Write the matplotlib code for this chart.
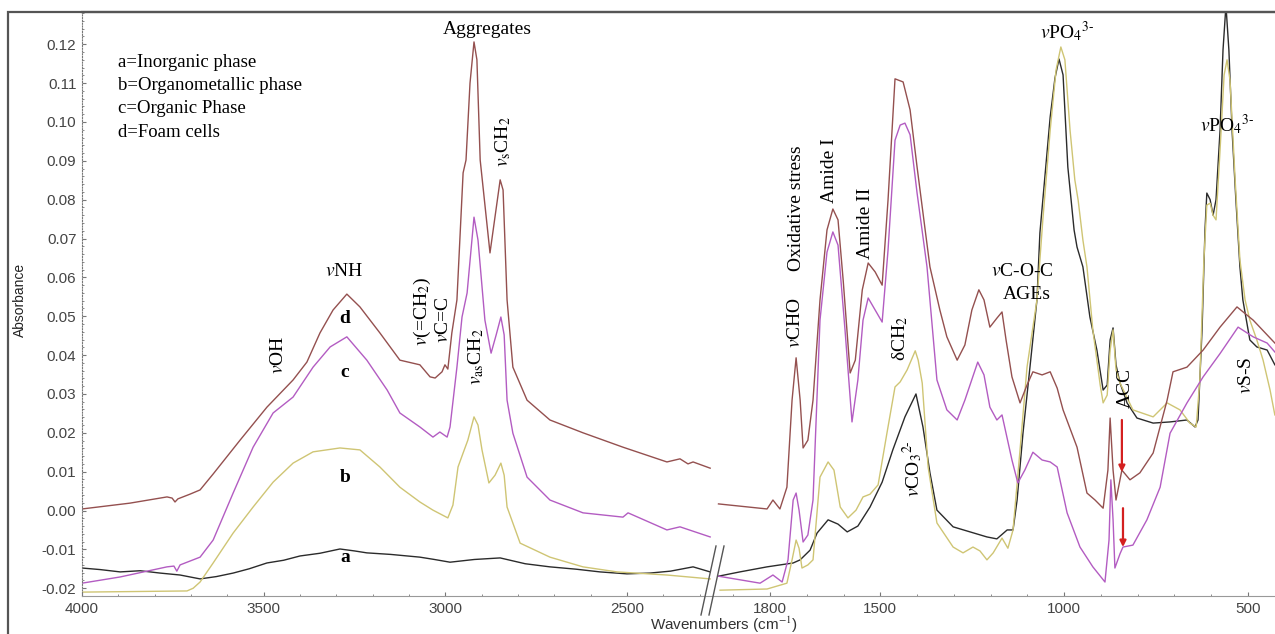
import numpy as np
import matplotlib.pyplot as plt
from matplotlib.patches import Rectangle
from matplotlib.lines import Line2D
from matplotlib.ticker import FixedLocator, FormatStrFormatter, MultipleLocator

plt.rcParams["mathtext.fontset"] = "stix"

# ---- spectra (wavenumber cm-1, absorbance) ----
# a = inorganic phase (black)
a_left_wn = [4000, 3950, 3895, 3840, 3785, 3730, 3675, 3630, 3584, 3540, 3491, 3445, 3400, 3345,
             3290, 3250, 3216, 3150, 3070, 3030, 2987, 2920, 2849, 2780, 2712, 2640, 2574, 2500,
             2437, 2380, 2318, 2271]
a_left_abs = [-0.0148, -0.0152, -0.0158, -0.0155, -0.0161, -0.0166, -0.0176, -0.0170, -0.0161,
              -0.0150, -0.0135, -0.0128, -0.0117, -0.0110, -0.0099, -0.0104, -0.0109, -0.0113,
              -0.0120, -0.0126, -0.0133, -0.0126, -0.0122, -0.0137, -0.0145, -0.0151, -0.0158,
              -0.0163, -0.0161, -0.0156, -0.0145, -0.0158]
a_right_wn = [1941, 1882, 1808, 1737, 1718, 1691, 1672, 1642, 1615, 1590, 1561, 1528, 1495, 1466,
              1433, 1403, 1384, 1365, 1346, 1302, 1256, 1210, 1183, 1155, 1139, 1128, 1112, 1093,
              1074, 1066, 1038, 1025, 1014, 1003, 990, 973, 965, 949, 930, 911, 894, 883, 875, 867,
              859, 848, 829, 802, 758, 712, 666, 644, 636, 625, 617, 612, 603, 595, 587, 576, 568,
              560, 552, 543, 533, 522, 514, 495, 476, 448, 427]
a_right_abs = [-0.0169, -0.0158, -0.0145, -0.0135, -0.0127, -0.0102, -0.0058, -0.0024, -0.0035,
               -0.0055, -0.0040, 0.0009, 0.0073, 0.0156, 0.0241, 0.0300, 0.0215, 0.0097, 0.0001,
               -0.0042, -0.0055, -0.0068, -0.0073, -0.0050, -0.0050, 0.0027, 0.0199, 0.0369,
               0.0542, 0.0714, 0.1013, 0.1113, 0.1162, 0.1121, 0.0884, 0.0722, 0.0678, 0.0627,
               0.0498, 0.0413, 0.0310, 0.0323, 0.0439, 0.0470, 0.0375, 0.0328, 0.0277, 0.0238,
               0.0225, 0.0228, 0.0233, 0.0215, 0.0233, 0.0465, 0.0722, 0.0817, 0.0800, 0.0760,
               0.0800, 0.0979, 0.1185, 0.1300, 0.1185, 0.0972, 0.0800, 0.0627, 0.0542, 0.0439,
               0.0421, 0.0413, 0.0375]

# b = organometallic phase (yellow)
b_left_wn = [4000, 3711, 3694, 3675, 3639, 3584, 3529, 3474, 3419, 3364, 3290, 3235, 3180, 3125,
             3070, 3034, 2993, 2979, 2965, 2951, 2938, 2921, 2910, 2899, 2880, 2863, 2847, 2838,
             2830, 2794, 2712, 2621, 2527, 2390, 2271]
b_left_abs = [-0.0210, -0.0207, -0.0200, -0.0184, -0.0135, -0.0058, 0.0009, 0.0073, 0.0122,
              0.0151, 0.0161, 0.0156, 0.0112, 0.0060, 0.0022, 0.0001, -0.0019, 0.0014, 0.0112,
              0.0148, 0.0181, 0.0241, 0.0220, 0.0156, 0.0071, 0.0091, 0.0122, 0.0091, 0.0009,
              -0.0084, -0.0120, -0.0145, -0.0158, -0.0166, -0.0176]
b_right_wn = [1936, 1808, 1754, 1740, 1729, 1721, 1713, 1697, 1683, 1664, 1642, 1626, 1609, 1588,
              1566, 1547, 1528, 1506, 1482, 1460, 1446, 1427, 1405, 1397, 1386, 1370, 1346, 1302,
              1275, 1248, 1229, 1210, 1193, 1169, 1153, 1139, 1120, 1101, 1074, 1058, 1038, 1022,
              1009, 998, 984, 971, 962, 949, 938, 922, 902, 894, 883, 875, 867, 859, 848, 813, 758,
              720, 685, 658, 641, 631, 620, 612, 603, 595, 587, 576, 565, 557, 549, 535, 522, 508,
              495, 476, 459, 440, 427]
b_right_abs = [-0.0205, -0.0202, -0.0187, -0.0127, -0.0076, -0.0097, -0.0148, -0.0140, -0.0127,
               0.0086, 0.0125, 0.0104, 0.0009, -0.0019, 0.0001, 0.0035, 0.0042, 0.0066, 0.0199,
               0.0318, 0.0331, 0.0362, 0.0411, 0.0387, 0.0328, 0.0112, -0.0032, -0.0094, -0.0109,
               -0.0094, -0.0104, -0.0127, -0.0109, -0.0071, -0.0097, -0.0050, 0.0156, 0.0369,
               0.0542, 0.0748, 0.0979, 0.1134, 0.1193, 0.1160, 0.0979, 0.0851, 0.0799, 0.0696,
               0.0627, 0.0465, 0.0323, 0.0277, 0.0297, 0.0413, 0.0465, 0.0362, 0.0328, 0.0259,
               0.0241, 0.0277, 0.0259, 0.0225, 0.0215, 0.0336, 0.0645, 0.0786, 0.0791, 0.0760,
               0.0748, 0.0928, 0.1121, 0.1160, 0.1108, 0.0851, 0.0645, 0.0542, 0.0490, 0.0439,
               0.0387, 0.0310, 0.0246]

# c = organic phase (purple)
c_left_wn = [4000, 3895, 3766, 3747, 3739, 3730, 3675, 3639, 3584, 3529, 3474, 3419, 3364, 3317,
             3271, 3216, 3160, 3125, 3070, 3034, 3015, 2995, 2987, 2968, 2954, 2940, 2921, 2910,
             2891, 2874, 2860, 2847, 2838, 2830, 2814, 2775, 2712, 2621, 2511, 2497, 2390, 2354,
             2271]
c_left_abs = [-0.0187, -0.0171, -0.0145, -0.0143, -0.0156, -0.0140, -0.0120, -0.0076, 0.0045,
              0.0163, 0.0251, 0.0292, 0.0369, 0.0421, 0.0447, 0.0387, 0.0310, 0.0251, 0.0215,
              0.0189, 0.0202, 0.0189, 0.0215, 0.0369, 0.0498, 0.0560, 0.0755, 0.0696, 0.0490,
              0.0405, 0.0452, 0.0498, 0.0452, 0.0284, 0.0199, 0.0086, 0.0027, -0.0006, -0.0017,
              -0.0006, -0.0050, -0.0042, -0.0068]
c_right_wn = [1941, 1827, 1792, 1767, 1751, 1737, 1729, 1721, 1710, 1697, 1683, 1664, 1645, 1629,
              1615, 1596, 1577, 1561, 1547, 1533, 1514, 1495, 1479, 1460, 1446, 1433, 1419, 1400,
              1373, 1346, 1319, 1291, 1270, 1235, 1218, 1202, 1183, 1169, 1142, 1126, 1107, 1085,
              1060, 1038, 1019, 992, 957, 922, 889, 878, 873, 867, 862, 848, 840, 813, 775, 739,
              712, 666, 622, 576, 527, 486, 448, 427]
c_right_abs = [-0.0169, -0.0187, -0.0166, -0.0184, -0.0127, 0.0027, 0.0045, 0.0001, -0.0081,
               -0.0063, 0.0027, 0.0490, 0.0665, 0.0717, 0.0683, 0.0465, 0.0228, 0.0336, 0.0490,
               0.0547, 0.0516, 0.0485, 0.0670, 0.0953, 0.0992, 0.0997, 0.0967, 0.0817, 0.0627,
               0.0336, 0.0259, 0.0233, 0.0284, 0.0382, 0.0349, 0.0266, 0.0233, 0.0246, 0.0130,
               0.0071, 0.0104, 0.0150, 0.0130, 0.0125, 0.0112, -0.0006, -0.0094, -0.0145,
               -0.0184, -0.0076, 0.0079, -0.0024, -0.0148, -0.0111, -0.0094, -0.0089, -0.0024,
               0.0060, 0.0199, 0.0277, 0.0344, 0.0404, 0.0472, 0.0447, 0.0431, 0.0408]

# d = foam cells (brown)
d_left_wn = [4000, 3868, 3766, 3752, 3744, 3736, 3703, 3675, 3639, 3565, 3491, 3419, 3381, 3345,
             3309, 3271, 3235, 3180, 3125, 3070, 3042, 3028, 3009, 3001, 2993, 2982, 2968, 2951,
             2943, 2932, 2921, 2913, 2904, 2877, 2849, 2841, 2830, 2814, 2775, 2712, 2621, 2511,
             2390, 2354, 2332, 2318, 2271]
d_left_abs = [0.0004, 0.0019, 0.0035, 0.0032, 0.0022, 0.0030, 0.0042, 0.0053, 0.0094, 0.0181,
              0.0266, 0.0336, 0.0382, 0.0457, 0.0516, 0.0557, 0.0524, 0.0457, 0.0387, 0.0375,
              0.0344, 0.0341, 0.0357, 0.0375, 0.0364, 0.0457, 0.0542, 0.0869, 0.0902, 0.1100,
              0.1206, 0.1160, 0.0902, 0.0663, 0.0851, 0.0825, 0.0542, 0.0369, 0.0284, 0.0233,
              0.0200, 0.0163, 0.0125, 0.0133, 0.0120, 0.0125, 0.0109]
d_right_wn = [1941, 1808, 1792, 1773, 1754, 1740, 1729, 1718, 1710, 1697, 1683, 1664, 1645, 1629,
              1615, 1601, 1582, 1568, 1549, 1533, 1514, 1495, 1479, 1460, 1438, 1419, 1400, 1378,
              1365, 1338, 1319, 1291, 1270, 1251, 1232, 1218, 1202, 1183, 1169, 1158, 1142, 1120,
              1101, 1085, 1060, 1038, 1019, 1003, 965, 938, 916, 894, 881, 875, 867, 859, 843, 821,
              794, 758, 720, 704, 666, 622, 576, 530, 486, 427]
d_right_abs = [0.0017, 0.0004, 0.0027, 0.0004, 0.0060, 0.0284, 0.0393, 0.0284, 0.0161, 0.0181,
               0.0284, 0.0542, 0.0722, 0.0776, 0.0748, 0.0593, 0.0354, 0.0387, 0.0568, 0.0637,
               0.0614, 0.0580, 0.0799, 0.1111, 0.1103, 0.1031, 0.0884, 0.0722, 0.0627, 0.0516,
               0.0447, 0.0387, 0.0426, 0.0516, 0.0568, 0.0542, 0.0472, 0.0495, 0.0511, 0.0439,
               0.0344, 0.0277, 0.0323, 0.0357, 0.0349, 0.0357, 0.0315, 0.0259, 0.0163, 0.0045,
               0.0027, 0.0006, 0.0104, 0.0238, 0.0104, 0.0027, 0.0104, 0.0079, 0.0097, 0.0148,
               0.0284, 0.0357, 0.0369, 0.0413, 0.0472, 0.0524, 0.0490, 0.0431]

x_major = [4000, 3500, 3000, 2500, 1800, 1500, 1000, 500]
legend_lines = ["a=Inorganic phase", "b=Organometallic phase", "c=Organic Phase", "d=Foam cells"]

COLORS = {"a": "#2b2b2b", "b": "#cfc574", "c": "#b35cc2", "d": "#94504f"}

# ---- broken wavenumber axis: 4000-2270 | 1940-426 ----
BRK_HI, BRK_LO = 2270.0, 1940.0
P_HI = 82 + (4000 - BRK_HI) * 0.3633
P_LO = 1248 - (BRK_LO - 500) * 0.3677


def _fwd(w):
    w = np.asarray(w, dtype=float)
    left = 82 + (4000 - w) * 0.3633
    right = 1248 - (w - 500) * 0.3677
    gap = P_HI + (BRK_HI - w) / (BRK_HI - BRK_LO) * (P_LO - P_HI)
    return -np.where(w >= BRK_HI, left, np.where(w <= BRK_LO, right, gap))


def _inv(t):
    p = -np.asarray(t, dtype=float)
    left = 4000 - (p - 82) / 0.3633
    right = 500 + (1248 - p) / 0.3677
    gap = BRK_HI - (p - P_HI) / (P_LO - P_HI) * (BRK_HI - BRK_LO)
    return np.where(p <= P_HI, left, np.where(p >= P_LO, right, gap))


SERIF = "Liberation Serif"
SANS = "Liberation Sans"

fig = plt.figure(figsize=(12.75, 6.34), dpi=100)
ax = fig.add_axes([82 / 1275, 1 - 596 / 634, 1 - 82 / 1275, (596 - 12) / 634])
ax.set_xscale("function", functions=(_fwd, _inv))

for key, segs in [("a", [(a_left_wn, a_left_abs), (a_right_wn, a_right_abs)]),
                  ("b", [(b_left_wn, b_left_abs), (b_right_wn, b_right_abs)]),
                  ("c", [(c_left_wn, c_left_abs), (c_right_wn, c_right_abs)]),
                  ("d", [(d_left_wn, d_left_abs), (d_right_wn, d_right_abs)])]:
    for wn, ab in segs:
        ax.plot(wn, ab, color=COLORS[key], lw=1.0)

ax.set_xlim(4000, 426.6)
ax.set_ylim(-0.0220, 0.1283)

ax.xaxis.set_major_locator(FixedLocator(x_major))
ax.xaxis.set_minor_locator(FixedLocator(list(range(2300, 4001, 100)) + list(range(500, 1901, 100))))
ax.xaxis.set_major_formatter(FormatStrFormatter("%d"))
ax.yaxis.set_major_locator(MultipleLocator(0.01))
ax.yaxis.set_minor_locator(MultipleLocator(0.002))
ax.yaxis.set_major_formatter(FormatStrFormatter("%.2f"))
ax.tick_params(which="both", direction="in", color="#777777", labelcolor="#444444",
               labelsize=11, pad=4)
ax.tick_params(which="major", length=3)
ax.tick_params(which="minor", length=1.5)
for lab in ax.get_xticklabels() + ax.get_yticklabels():
    lab.set_fontfamily(SANS)

ax.spines["right"].set_visible(False)
ax.spines["top"].set_color("#555555")
ax.spines["top"].set_linewidth(1.6)
ax.spines["bottom"].set_color("#999999")
ax.spines["left"].set_color("#777777")
ax.spines["left"].set_linestyle((0, (1, 1.5)))
ax.patch.set_alpha(0)

# outer frame
fig.patches.append(Rectangle((8 / 1275, -0.05), 1.2, 1 - 12 / 634 + 0.05, fill=False,
                             ec="#555555", lw=1.6, transform=fig.transFigure, zorder=0))

# axis break marks
for dx in (0, 8):
    fig.add_artist(Line2D([(701 + dx) / 1275, (716 + dx) / 1275], [1 - 615 / 634, 1 - 546 / 634],
                          color="#555555", lw=1.0, transform=fig.transFigure))

fig.text(20 / 1275, 1 - 300 / 634, "Absorbance", rotation=90, ha="center", va="center",
         fontsize=10, family=SANS, color="#222222")
fig.text(724 / 1275, 1 - 625 / 634, "Wavenumbers (cm$^{-1}$)", ha="center", va="center",
         fontsize=11, family=SANS, color="#333333")

# legend as plain text
for i, line in enumerate(legend_lines):
    ax.text(3901, 0.1154 - i * 0.0060, line, ha="left", va="center", fontsize=13.5, family=SERIF)

# curve letters
for letter, y in zip("dcba", [0.0495, 0.0354, 0.0086, -0.0120]):
    ax.text(3276, y, letter, ha="center", va="center", fontsize=14, family=SERIF,
            fontweight="bold")

# band labels (x, y, text, rotation)
labels = [
    (3458, 0.0400, r"$v$OH", 90),
    (3279, 0.0614, r"$v$NH", 0),
    (3064, 0.0511, r"$v$(=CH$_2$)", 90),
    (3004, 0.0490, r"$v$C=C", 90),
    (2915, 0.0395, r"$v_{\mathrm{as}}$CH$_2$", 90),
    (2841, 0.0949, r"$v_{\mathrm{s}}$CH$_2$", 90),
    (2885, 0.1237, "Aggregates", 0),
    (1729, 0.0779, "Oxidative stress", 90),
    (1732, 0.0483, r"$v$CHO", 90),
    (1637, 0.0876, "Amide I", 90),
    (1539, 0.0740, "Amide II", 90),
    (1446, 0.0444, r"δCH$_2$", 90),
    (1411, 0.0109, r"$v$CO$_3$$^{2\text{-}}$", 90),
    (1115, 0.0616, r"$v$C-O-C", 0),
    (1101, 0.0557, "AGEs", 0),
    (992, 0.1232, r"$v$PO$_4$$^{3\text{-}}$", 0),
    (557, 0.0992, r"$v$PO$_4$$^{3\text{-}}$", 0),
    (835, 0.0315, "ACC", 90),
    (505, 0.0349, r"$v$S-S", 90),
]
for x, y, s, rot in labels:
    ax.text(x, y, s, ha="center", va="center", rotation=rot, fontsize=14, family=SERIF)

# red arrows (ACC)
for x, y0, y1 in [(843, 0.0233, 0.0099), (840, 0.0006, -0.0094)]:
    ax.annotate("", xy=(x, y1), xytext=(x, y0),
                arrowprops=dict(arrowstyle="-|>", color="#d42020", lw=1.6,
                                mutation_scale=9, shrinkA=0, shrinkB=0))

fig.savefig("out.png", dpi=100)
